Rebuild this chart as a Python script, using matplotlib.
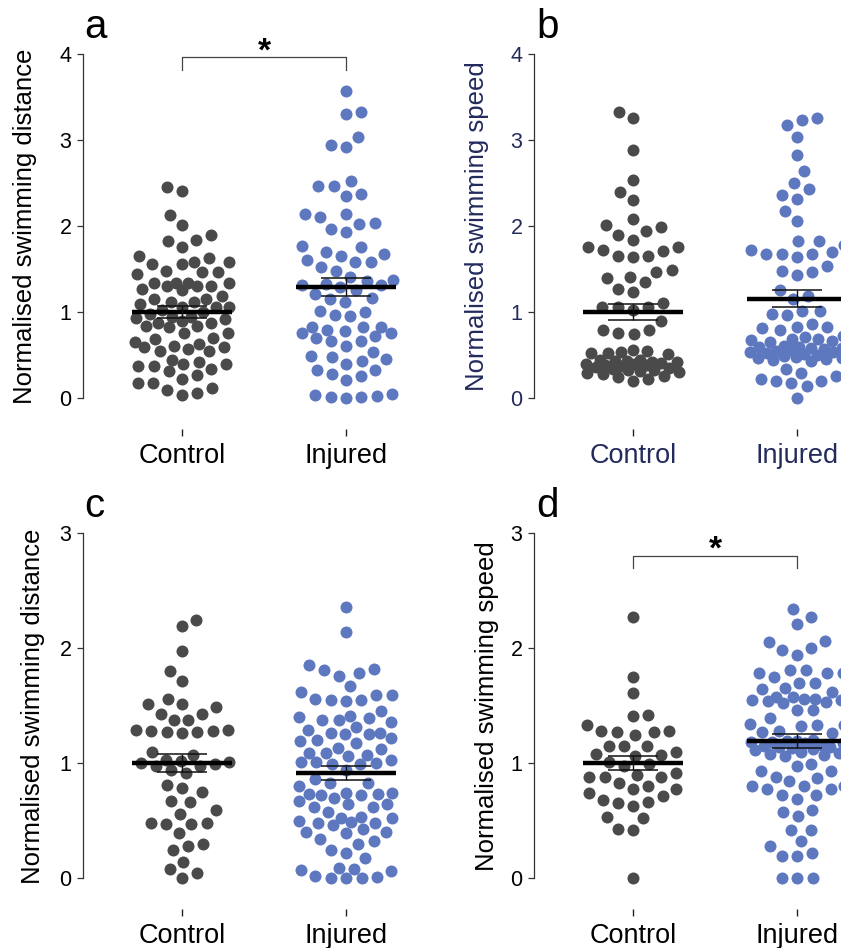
import matplotlib
matplotlib.use('Agg')
import matplotlib.pyplot as plt
import numpy as np

plt.rcParams['font.family'] = ['Liberation Sans', 'DejaVu Sans']

groups = ['Control', 'Injured']

# ---------------- data ----------------
ctrl_a = [2.45, 2.41, 2.13, 2.01, 1.90, 1.84, 1.83, 1.76,
          1.65, 1.63, 1.58, 1.58, 1.56, 1.56,
          1.48, 1.47, 1.47, 1.44,
          1.34, 1.34, 1.34, 1.34, 1.30, 1.30, 1.30, 1.27, 1.26, 1.19,
          1.15, 1.15, 1.12, 1.12, 1.09, 1.06, 1.06, 1.06, 1.02, 1.00, 0.98,
          0.94, 0.94, 0.93, 0.92, 0.90, 0.87, 0.87, 0.84, 0.84, 0.82,
          0.76, 0.75, 0.70, 0.69,
          0.65, 0.63, 0.61, 0.59, 0.59, 0.57, 0.55, 0.55,
          0.44, 0.42, 0.40, 0.40, 0.37, 0.37, 0.34, 0.31, 0.27,
          0.22, 0.17, 0.17, 0.12, 0.09, 0.06, 0.03]
inj_a = [3.57, 3.33, 3.30, 3.04, 2.94, 2.92,
         2.52, 2.47, 2.46, 2.37, 2.35,
         2.14, 2.14, 2.10, 2.03, 2.02, 1.97, 1.93,
         1.77, 1.75, 1.70, 1.68, 1.65, 1.60, 1.58, 1.58,
         1.52, 1.48, 1.41, 1.37, 1.36, 1.33, 1.31, 1.31, 1.29, 1.25, 1.21,
         1.16, 1.15, 1.12,
         1.01, 1.00, 0.96, 0.95,
         0.82, 0.82, 0.82, 0.79, 0.78, 0.76, 0.75, 0.72, 0.70, 0.66, 0.66, 0.60,
         0.53, 0.49, 0.48, 0.45, 0.43, 0.40,
         0.32, 0.32, 0.28, 0.25, 0.21,
         0.05, 0.03, 0.02, 0.01, 0.01, 0.00]
ctrl_b = [3.32, 3.25, 2.88, 2.54, 2.40, 2.30,
          2.08, 2.01, 1.99, 1.94, 1.90, 1.84, 1.75, 1.75, 1.72, 1.71, 1.65, 1.65, 1.64,
          1.49, 1.47, 1.41, 1.40, 1.35, 1.27, 1.23,
          1.10, 1.06, 1.06, 1.06, 1.02,
          0.90, 0.79, 0.79, 0.75, 0.74,
          0.56, 0.55, 0.53, 0.52, 0.52, 0.51,
          0.44, 0.44, 0.43, 0.43, 0.42, 0.42, 0.41, 0.40, 0.39, 0.38, 0.38, 0.37,
          0.36, 0.35, 0.34, 0.33, 0.32, 0.31, 0.30, 0.29, 0.28, 0.26, 0.24, 0.22, 0.20]
inj_b = [3.26, 3.23, 3.17, 3.03, 2.82, 2.64, 2.50, 2.43, 2.36, 2.31, 2.18, 2.06,
         1.83, 1.82, 1.78, 1.72, 1.70, 1.68, 1.68, 1.67, 1.64,
         1.53, 1.48, 1.46, 1.43,
         1.25, 1.19, 1.15,
         1.01, 1.01, 0.98, 0.97, 0.86,
         0.83, 0.82, 0.81, 0.79,
         0.72, 0.71, 0.69, 0.69, 0.67, 0.66, 0.65,
         0.60, 0.59, 0.59, 0.58, 0.58, 0.57, 0.56, 0.55, 0.54, 0.53, 0.52, 0.51,
         0.50, 0.49, 0.48, 0.47, 0.46, 0.45, 0.44, 0.43,
         0.34, 0.29, 0.26, 0.22, 0.20, 0.20, 0.17, 0.14, 0.00]
ctrl_c = [2.24, 2.19, 1.97, 1.80, 1.71,
          1.56, 1.51, 1.51, 1.49, 1.43, 1.43,
          1.37, 1.37,
          1.29, 1.29, 1.28, 1.28, 1.27, 1.27, 1.26,
          1.10, 1.07,
          1.03, 1.02, 1.01, 1.00, 0.99, 0.97, 0.97, 0.94, 0.91,
          0.81, 0.78, 0.75,
          0.67, 0.66, 0.59, 0.56,
          0.48, 0.48, 0.47, 0.47,
          0.39, 0.30, 0.28, 0.24, 0.14,
          0.08, 0.04, 0.00]
inj_c = [2.36, 2.14,
         1.85, 1.82, 1.81, 1.78, 1.76,
         1.67, 1.62, 1.59, 1.59, 1.56, 1.55, 1.55, 1.54,
         1.45, 1.41, 1.40, 1.39, 1.37, 1.37, 1.36, 1.31, 1.29,
         1.26, 1.26, 1.25, 1.25,
         1.22, 1.20, 1.19, 1.17,
         1.13, 1.12, 1.09, 1.09,
         1.07, 1.06, 1.03, 1.01, 1.01, 1.00, 0.99, 0.99,
         0.94,
         0.86, 0.83, 0.83, 0.80,
         0.74, 0.74, 0.73, 0.73, 0.72, 0.72, 0.70,
         0.67, 0.64, 0.64, 0.62, 0.62,
         0.57, 0.53, 0.52, 0.52, 0.50, 0.49, 0.48, 0.48, 0.46, 0.43,
         0.40, 0.40, 0.39, 0.34, 0.32, 0.30,
         0.24, 0.22, 0.17,
         0.09, 0.08, 0.07, 0.06, 0.02, 0.01, 0.00, 0.00, 0.00]
ctrl_d = [2.27, 1.75, 1.61,
          1.42, 1.41, 1.33,
          1.28, 1.28, 1.27, 1.27, 1.24,
          1.15, 1.15, 1.15, 1.10, 1.08, 1.07, 1.06,
          1.01, 0.99, 0.97,
          0.91, 0.90, 0.88, 0.88, 0.88,
          0.83, 0.80, 0.77, 0.77, 0.74, 0.71,
          0.68, 0.66, 0.65, 0.63,
          0.53, 0.52, 0.43, 0.42,
          0.00]
inj_d = [2.34, 2.27, 2.21,
         2.06, 2.05, 2.00, 1.98, 1.94,
         1.81, 1.81, 1.78, 1.78, 1.78, 1.75,
         1.70, 1.70, 1.65, 1.64, 1.62,
         1.57, 1.57, 1.56, 1.56, 1.55, 1.55, 1.54, 1.53, 1.52,
         1.46, 1.46, 1.39,
         1.34, 1.33, 1.33, 1.32,
         1.28, 1.27, 1.26,
         1.20, 1.19, 1.19, 1.18, 1.18, 1.17, 1.17, 1.16, 1.15, 1.14, 1.14,
         1.13, 1.12, 1.11, 1.10, 1.09, 1.08, 1.07, 1.06,
         0.99, 0.97,
         0.93, 0.93, 0.88, 0.87,
         0.84, 0.80, 0.80, 0.80, 0.77, 0.77, 0.72, 0.72, 0.69,
         0.59, 0.57, 0.54,
         0.42, 0.42, 0.32, 0.28,
         0.22, 0.19, 0.19,
         0.00, 0.00, 0.00]

means_a = [1.00, 1.29]
sems_a = [0.065, 0.105]
means_b = [1.00, 1.155]
sems_b = [0.095, 0.10]
means_c = [1.00, 0.915]
sems_c = [0.08, 0.06]
means_d = [1.00, 1.19]
sems_d = [0.065, 0.058]

ylabels = ['Normalised swimming distance', 'Normalised swimming speed',
           'Normalised swimming distance', 'Normalised swimming speed']
letters = ['a', 'b', 'c', 'd']

# ---------------- layout ----------------
W, H = 841, 948
fig = plt.figure(figsize=(W / 100, H / 100), dpi=100)
fig.patch.set_facecolor('white')

CTRL_COLOR = '#4a4a4a'
INJ_COLOR = '#5e78c0'
NAVY = '#232a5c'
PX_PER_GROUP = 164.0
DOT_PX = 12.0      # drawn dot diameter (pixels)
GAP_PX = 15.5      # preferred centre distance used for the swarm layout
MAX_HALF_PX = 47.0 # maximum half-width of a swarm (pixels)


def swarm_offsets(values, px_per_unit):
    """Beeswarm layout in pixel space: returns horizontal offsets (pixels).
    Points are packed with a preferred spacing; in dense regions the spacing
    shrinks so the swarm stays inside a maximum half-width (dots overlap)."""
    ys = np.asarray(values, float) * px_per_unit
    order = np.argsort(ys, kind='stable')
    placed_x, placed_y = [], []
    out = np.zeros(len(ys))
    flip = 1.0
    for idx in order:
        y = ys[idx]
        px_ = np.array(placed_x)
        py_ = np.array(placed_y)
        chosen = None
        for d in np.linspace(GAP_PX, 4.0, 24):
            cands = [0.0]
            if len(px_):
                near = np.abs(py_ - y) < d
                for xj, yj in zip(px_[near], py_[near]):
                    dx = np.sqrt(d * d - (y - yj) ** 2)
                    cands += [xj + dx, xj - dx]
            cands = sorted(set(np.round(cands, 6)), key=lambda c: (abs(c), flip * c))
            for c in cands:
                if abs(c) > MAX_HALF_PX:
                    break
                if len(px_) == 0 or np.all((px_ - c) ** 2 + (py_ - y) ** 2 >= d * d - 1e-3):
                    chosen = c
                    break
            if chosen is not None:
                break
        if chosen is None:
            chosen = flip * MAX_HALF_PX
        flip = -flip
        placed_x.append(chosen)
        placed_y.append(y)
        out[idx] = chosen
    return out


panels = [
    dict(ctrl=ctrl_a, inj=inj_a, means=means_a, sems=sems_a, ymax=4,
         left=83, right=430, top=54, zero=398, bottom=436, cx=182,
         txt='black', label_xy=(25, 226), letter_xy=(84, 38),
         sig=(3.965, 3.81, 3.92)),
    dict(ctrl=ctrl_b, inj=inj_b, means=means_b, sems=sems_b, ymax=4,
         left=534, right=841, top=54, zero=398, bottom=436, cx=633,
         txt=NAVY, label_xy=(477, 226), letter_xy=(536, 38), sig=None),
    dict(ctrl=ctrl_c, inj=inj_c, means=means_c, sems=sems_c, ymax=3,
         left=83, right=430, top=533, zero=878, bottom=916, cx=182,
         txt='black', label_xy=(33, 706), letter_xy=(84, 517), sig=None),
    dict(ctrl=ctrl_d, inj=inj_d, means=means_d, sems=sems_d, ymax=3,
         left=534, right=841, top=533, zero=878, bottom=916, cx=633,
         txt='black', label_xy=(487, 706), letter_xy=(536, 517),
         sig=(2.80, 2.70, 2.775)),
]

dot_area = (DOT_PX * 72 / 100) ** 2

for k, p in enumerate(panels):
    ax = fig.add_axes([p['left'] / W, 1 - p['bottom'] / H,
                       (p['right'] - p['left']) / W, (p['bottom'] - p['top']) / H])
    ax.patch.set_alpha(0)

    scale = (p['zero'] - p['top']) / p['ymax']
    ax.set_ylim(-(p['bottom'] - p['zero']) / scale, p['ymax'])
    ax.set_xlim((p['left'] - p['cx']) / PX_PER_GROUP, (p['right'] - p['cx']) / PX_PER_GROUP)

    for i, (vals, col) in enumerate([(p['ctrl'], CTRL_COLOR), (p['inj'], INJ_COLOR)]):
        offs = swarm_offsets(vals, scale) / PX_PER_GROUP
        ax.scatter(i + offs, vals, s=dot_area, color=col, linewidths=0, zorder=2)

    for i, (m, s) in enumerate(zip(p['means'], p['sems'])):
        ax.hlines(m, i - 0.305, i + 0.305, color='black', lw=3.2, zorder=5)
        ax.vlines(i, m - s, m + s, color='#111111', lw=1.0, zorder=6)
        ax.hlines([m - s, m + s], i - 0.152, i + 0.152, color='#111111', lw=1.1, zorder=6)

    for side in ['top', 'right', 'bottom']:
        ax.spines[side].set_visible(False)
    ax.spines['left'].set_bounds(0, p['ymax'])
    ax.spines['left'].set_color('#333333')
    ax.spines['left'].set_linewidth(0.9)

    ax.set_yticks(range(0, p['ymax'] + 1))
    ax.set_xticks([0, 1])
    ax.set_xticklabels(groups)
    ax.tick_params(axis='x', direction='in', length=5, width=1.0, pad=5,
                   labelsize=19.5, colors='#222222', labelcolor=p['txt'])
    ax.tick_params(axis='y', direction='out', length=4.3, width=0.9, pad=4,
                   labelsize=15.5, colors='#333333', labelcolor=p['txt'])

    if p['sig'] is not None:
        yb, yl, ys = p['sig']
        ax.plot([0, 0, 1, 1], [yl, yb, yb, yl], color='#444444', lw=0.9,
                clip_on=False, zorder=4)
        ax.text(0.5, ys, '*', ha='center', va='baseline', fontsize=24,
                fontweight='bold', color='black', clip_on=False)

    lx, ly = p['label_xy']
    fig.text(lx / W, 1 - ly / H, ylabels[k], rotation=90, ha='center', va='center',
             fontsize=18.5, color=p['txt'])
    tx, ty = p['letter_xy']
    fig.text(tx / W, 1 - ty / H, letters[k], ha='left', va='baseline',
             fontsize=29, color='black')

fig.savefig('out.png', dpi=100, facecolor='white')
